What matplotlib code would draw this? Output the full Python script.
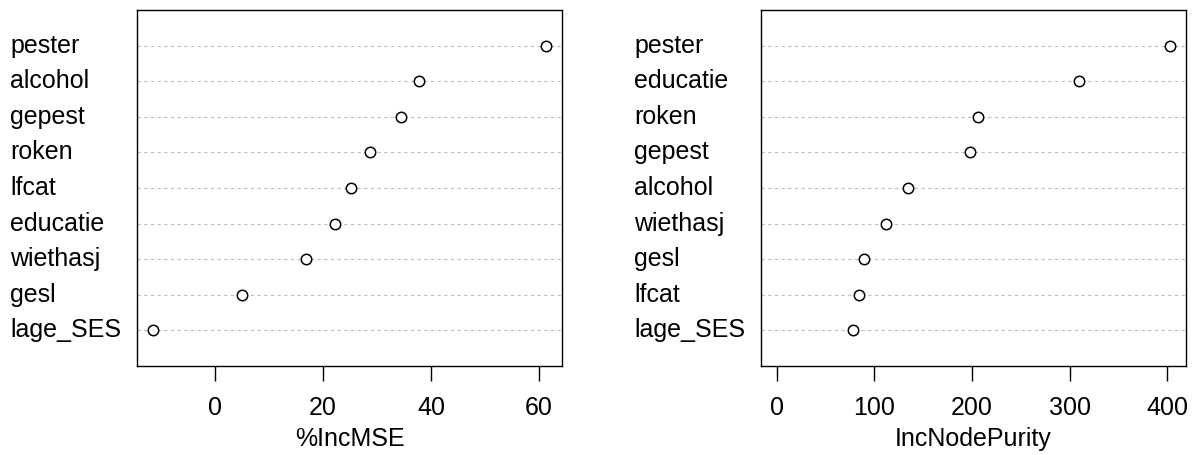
import matplotlib
matplotlib.use('Agg')
import matplotlib.pyplot as plt
from matplotlib import transforms

plt.rcParams['font.family'] = ['Liberation Sans', 'DejaVu Sans']

# %IncMSE (boven naar beneden)
mse_vars = ['pester', 'alcohol', 'gepest', 'roken', 'lfcat', 'educatie', 'wiethasj', 'gesl', 'lage_SES']
mse_vals = [61.4, 37.7, 34.5, 28.7, 25.2, 22.3, 16.8, 5.0, -11.6]
mse_ticks = [0, 20, 40, 60]

# IncNodePurity
inp_vars = ['pester', 'educatie', 'roken', 'gepest', 'alcohol', 'wiethasj', 'gesl', 'lfcat', 'lage_SES']
inp_vals = [403, 310, 206, 198, 134, 112, 89, 84, 78]
inp_ticks = [0, 100, 200, 300, 400]

W, H = 1193, 455
fig = plt.figure(figsize=(W / 100, H / 100), dpi=100)
FS = 18

def panel(x0, x1, label_x, names, vals, ticks, xlabel, xlim):
    ax = fig.add_axes([x0 / W, (H - 366) / H, (x1 - x0) / W, 356 / H])
    n = len(names)
    ys = list(range(n, 0, -1))
    for y in ys:
        ax.axhline(y, color='#c0c0c0', lw=0.8, ls=(0, (3, 3)), zorder=1)
    ax.plot(vals, ys, 'o', mfc='white', mec='black', ms=7.5, mew=1.1, ls='none', zorder=3)
    ax.set_ylim(0, n + 1)
    ax.set_xlim(*xlim)
    ax.set_yticks([])
    ax.set_xticks(ticks)
    ax.tick_params(axis='x', length=10.5, width=1, labelsize=FS, pad=11)
    ax.set_xlabel(xlabel, fontsize=FS, labelpad=5)
    for s in ax.spines.values():
        s.set_linewidth(1.0)
    tr = transforms.blended_transform_factory(fig.transFigure, ax.transData)
    for name, y in zip(names, ys):
        ax.text(label_x / W, y, name, transform=tr, ha='left', va='center', fontsize=FS)
    return ax

span = max(mse_vals) - min(mse_vals)
panel(137, 562, 10, mse_vars, mse_vals, mse_ticks, '%IncMSE',
      (min(mse_vals) - 0.04 * span, max(mse_vals) + 0.04 * span))
panel(761, 1186, 634, inp_vars, inp_vals, inp_ticks, 'IncNodePurity',
      (-0.04 * max(inp_vals), 1.04 * max(inp_vals)))

fig.savefig('out.png', dpi=100)
